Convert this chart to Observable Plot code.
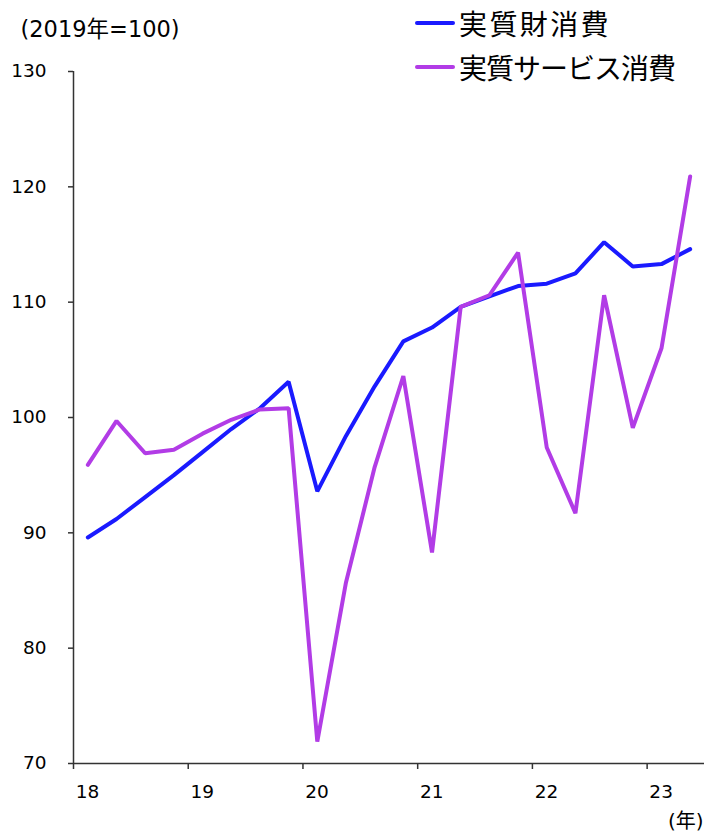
<!DOCTYPE html>
<html>
<head>
<meta charset="utf-8">
<script src="https://cdn.jsdelivr.net/npm/d3@7"></script>
<script src="https://cdn.jsdelivr.net/npm/@observablehq/plot@0.6"></script>
<style>
  body { margin: 0; background: #fff; }
  #chart { position: relative; width: 707px; height: 834px; }
  #chart svg { position: absolute; left: 0; top: 0; }
  .legend-row {
    position: absolute; left: 415px; height: 34px; line-height: 34px;
    display: flex; align-items: center;
    font-family: "Noto Sans CJK JP", sans-serif; font-size: 28px; color: #000;
    white-space: nowrap;
  }
  .swatch { display: inline-block; width: 40px; height: 4px; border-radius: 2px; margin-right: 4px; }
</style>
</head>
<body>
<div id="chart"></div>
<script>
// Quarterly index, 2019 average = 100, 2018Q1 .. 2023Q2
const startYear = 2018;
const goods = [89.6, 91.2, 93.1, 95.0, 97.0, 99.0, 100.8, 103.1, 93.6, 98.4, 102.7, 106.6,
               107.8, 109.6, 110.5, 111.4, 111.6, 112.5, 115.2, 113.1, 113.3, 114.6];
const services = [95.9, 99.7, 96.9, 97.2, 98.6, 99.8, 100.7, 100.8, 71.9, 85.7, 95.7, 103.6,
                  88.3, 109.6, 110.6, 114.3, 97.4, 91.7, 110.6, 99.1, 106.0, 120.9];
const seriesNames = ["実質財消費", "実質サービス消費"];
const seriesColors = ["#1a1aff", "#b23ce6"];
const yearTicks = [2018, 2019, 2020, 2021, 2022, 2023];
const yearLabels = ["18", "19", "20", "21", "22", "23"];
const yTicks = [70, 80, 90, 100, 110, 120, 130];
const xDomain = [2018, 2023.5];
const yDomain = [70, 130];

// each quarter sits at the middle of its quarter on a continuous year axis
const toRows = (values, name) => values.map((v, i) => ({
  t: startYear + Math.floor(i / 4) + ((i % 4) + 0.5) / 4,
  v,
  name
}));
const goodsRows = toRows(goods, seriesNames[0]);
const serviceRows = toRows(services, seriesNames[1]);
const labelRows = yearTicks.map((y, i) => ({ y, label: yearLabels[i] }));

const axisColor = "#333";
const tickFont = "'DejaVu Sans', sans-serif";
const tickSize = 18.5;

const chart = Plot.plot({
  width: 707,
  height: 834,
  marginTop: 71,
  marginBottom: 71,
  marginLeft: 73,
  marginRight: 3,
  style: { fontFamily: tickFont, fontSize: tickSize + "px", color: "#000", background: "transparent" },
  x: { domain: xDomain, label: null },
  y: { domain: yDomain, label: null },
  marks: [
    Plot.axisX({ ticks: yearTicks, tickSize: 6, tickFormat: () => "", stroke: axisColor, strokeWidth: 1.5 }),
    Plot.axisY({ ticks: yTicks, tickSize: 5, tickPadding: 22, fontSize: tickSize, fontFamily: tickFont,
                 fill: "#000", stroke: axisColor, strokeWidth: 1.5 }),
    Plot.ruleX([xDomain[0]], { stroke: axisColor, strokeWidth: 1.5 }),
    Plot.ruleY([yDomain[0]], { stroke: axisColor, strokeWidth: 1.5 }),
    Plot.line(goodsRows, {
      x: "t", y: "v", stroke: seriesColors[0], strokeWidth: 4,
      strokeLinejoin: "miter", strokeLinecap: "round"
    }),
    Plot.line(serviceRows, {
      x: "t", y: "v", stroke: seriesColors[1], strokeWidth: 4,
      strokeLinejoin: "miter", strokeLinecap: "round"
    }),
    // year labels sit under the first quarter of each year
    Plot.text(labelRows, {
      x: "y", text: "label", frameAnchor: "bottom", lineAnchor: "top",
      dx: 14, dy: 21, fontSize: tickSize, fontFamily: tickFont, fill: "#000"
    }),
    Plot.text(["(2019年=100)"], {
      frameAnchor: "top-left", textAnchor: "start", lineAnchor: "middle",
      dx: -53, dy: -42, fontSize: 22.5,
      fontFamily: "'DejaVu Sans', 'Noto Sans CJK JP', sans-serif", fill: "#000"
    }),
    Plot.text(["(年)"], {
      frameAnchor: "bottom-right", textAnchor: "end", lineAnchor: "middle",
      dx: -1, dy: 58, fontSize: 20,
      fontFamily: "'DejaVu Sans', 'Noto Sans CJK JP', sans-serif", fill: "#000"
    })
  ]
});

const root = document.getElementById("chart");
root.appendChild(chart);

// legend
const legendTops = [6, 50];
const legendSpacing = ["2.4px", "-1px"];
seriesNames.forEach((name, i) => {
  const row = document.createElement("div");
  row.className = "legend-row";
  row.style.top = legendTops[i] + "px";
  const sw = document.createElement("span");
  sw.className = "swatch";
  sw.style.background = seriesColors[i];
  const label = document.createElement("span");
  label.textContent = name;
  label.style.letterSpacing = legendSpacing[i];
  row.appendChild(sw);
  row.appendChild(label);
  root.appendChild(row);
});
</script>
</body>
</html>
